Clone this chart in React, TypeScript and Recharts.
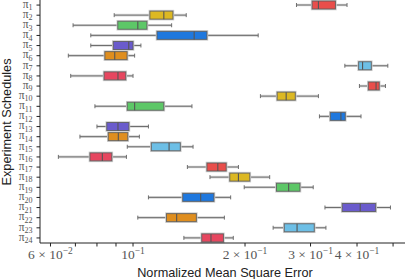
import { Bar, ComposedChart, XAxis, YAxis } from 'recharts';

// one box per schedule, rows top to bottom
const scheduleIds = [1, 2, 3, 4, 5, 6, 7, 8, 9, 10, 11, 12, 13, 14, 15, 16, 17, 18, 19, 20, 21, 22, 23, 24];

const whiskerLow = [0.275, 0.089, 0.069, 0.077, 0.077, 0.067, 0.371, 0.068, 0.406, 0.22, 0.079, 0.317, 0.08, 0.072, 0.0965, 0.063, 0.14, 0.161, 0.199, 0.11, 0.328, 0.103, 0.238, 0.137];
const boxLow = [0.303, 0.111, 0.091, 0.116, 0.0885, 0.084, 0.404, 0.0836, 0.429, 0.244, 0.0965, 0.339, 0.085, 0.0858, 0.112, 0.0766, 0.158, 0.182, 0.243, 0.136, 0.365, 0.123, 0.255, 0.153];
const medians = [0.315, 0.121, 0.103, 0.146, 0.0974, 0.0893, 0.414, 0.0911, 0.45, 0.258, 0.101, 0.362, 0.0911, 0.0913, 0.125, 0.0827, 0.169, 0.192, 0.262, 0.152, 0.408, 0.131, 0.276, 0.162];
const boxHigh = [0.35, 0.128, 0.109, 0.158, 0.1, 0.0964, 0.437, 0.0956, 0.459, 0.273, 0.121, 0.372, 0.0975, 0.0968, 0.134, 0.0877, 0.178, 0.206, 0.281, 0.165, 0.449, 0.148, 0.307, 0.175];
const whiskerHigh = [0.376, 0.139, 0.127, 0.217, 0.105, 0.101, 0.484, 0.1, 0.477, 0.315, 0.144, 0.41, 0.11, 0.104, 0.145, 0.096, 0.192, 0.233, 0.305, 0.183, 0.492, 0.176, 0.33, 0.186];

// colours repeat every 8 rows
const palette = ['#e84e4b', '#dcb823', '#5dc767', '#1f78de', '#6a5bcc', '#df8e1f', '#6dbfe6', '#e6465f'];

const xTicks = [0.06, 0.07, 0.08, 0.09, 0.1, 0.2, 0.3, 0.4, 0.5];
const xTickLabels: Record<string, [string, string]> = {
  '0.06': ['6 × 10', '−2'],
  '0.1': ['10', '−1'],
  '0.2': ['2 × 10', '−1'],
  '0.3': ['3 × 10', '−1'],
  '0.4': ['4 × 10', '−1'],
};

const data = scheduleIds.map((id, i) => ({
  name: `π${id}`,
  color: palette[i % palette.length],
  whisker: [whiskerLow[i], whiskerHigh[i]],
  box: [boxLow[i], boxHigh[i]],
  med: [boxLow[i], medians[i]],
}));

const mathFont = '"Liberation Serif", "DejaVu Serif", serif';
const sansFont = '"Liberation Sans", Arial, sans-serif';

function WhiskerShape(props: any) {
  const { x, y, width, height } = props;
  const cy = y + height / 2;
  return (
    <g>
      <line x1={x} x2={x + width} y1={cy} y2={cy} stroke="#d6d6d6" strokeWidth={2.6} />
      <line x1={x} x2={x + width} y1={cy} y2={cy} stroke="#6e6e6e" strokeWidth={1} />
      <line x1={x} x2={x} y1={cy - 2} y2={cy + 2} stroke="#6e6e6e" strokeWidth={1} />
      <line x1={x + width} x2={x + width} y1={cy - 2} y2={cy + 2} stroke="#6e6e6e" strokeWidth={1} />
    </g>
  );
}

function BoxShape(props: any) {
  const { x, y, width, height, payload } = props;
  return (
    <g>
      <rect x={x - 0.5} y={y - 0.5} width={width + 1} height={height + 1} fill="none" stroke="#cfcfcf" strokeWidth={1.6} />
      <rect x={x} y={y} width={width} height={height} fill={payload.color} stroke="#5a5a5a" strokeOpacity={0.85} strokeWidth={1} />
    </g>
  );
}

function MedianShape(props: any) {
  const { x, y, width, height } = props;
  const mx = x + width;
  return <line x1={mx} x2={mx} y1={y} y2={y + height} stroke="#555" strokeWidth={1.1} />;
}

function XTick(props: any) {
  const { x, y, payload } = props;
  const lbl = xTickLabels[String(payload.value)];
  if (!lbl) return null;
  return (
    <text x={x} y={y + 10.5} textAnchor="middle" fontFamily={mathFont} fontSize={13.5} fill="#555">
      {lbl[0]}
      <tspan dy={-5.5} fontSize={9.5}>{lbl[1]}</tspan>
    </text>
  );
}

function YTick(props: any) {
  const { x, y, payload } = props;
  const sub = String(payload.value).slice(1);
  return (
    <text x={x} y={y + 2.8} textAnchor="end" fontFamily={mathFont} fontSize={11.5} fill="#555">
      π
      <tspan dy={2.4} fontSize={8}>{sub}</tspan>
    </text>
  );
}

export default function App() {
  return (
    <div style={{ position: 'absolute', left: 0, top: 0, width: 407, height: 279 }}>
      <ComposedChart
        width={407}
        height={279}
        data={data}
        layout="vertical"
        margin={{ top: 0, right: 2, bottom: 0, left: 0 }}
      >
        <XAxis
          type="number"
          scale="log"
          domain={[0.05623, 0.5383]}
          allowDataOverflow
          ticks={xTicks}
          interval={0}
          tick={<XTick />}
          tickSize={3.5}
          tickMargin={2}
          height={36}
          stroke="#222"
        />
        <YAxis
          yAxisId="box"
          type="category"
          dataKey="name"
          width={40}
          interval={0}
          tick={<YTick />}
          tickSize={3.5}
          tickMargin={4}
          stroke="#222"
        />
        <YAxis yAxisId="whisker" type="category" dataKey="name" hide />
        <YAxis yAxisId="median" type="category" dataKey="name" hide />
        <Bar yAxisId="whisker" dataKey="whisker" barSize={8} shape={<WhiskerShape />} isAnimationActive={false} />
        <Bar yAxisId="box" dataKey="box" barSize={8} shape={<BoxShape />} isAnimationActive={false} />
        <Bar yAxisId="median" dataKey="med" barSize={8} shape={<MedianShape />} isAnimationActive={false} />
      </ComposedChart>
      <svg width={407} height={279} style={{ position: 'absolute', left: 0, top: 0, pointerEvents: 'none' }}>
        <text x={225} y={276.5} textAnchor="middle" fontFamily={sansFont} fontSize={12.7} fill="#222">
          Normalized Mean Square Error
        </text>
        <text transform="translate(10.5,122) rotate(-90)" textAnchor="middle" fontFamily={sansFont} fontSize={12.7} fill="#222">
          Experiment Schedules
        </text>
      </svg>
    </div>
  );
}
